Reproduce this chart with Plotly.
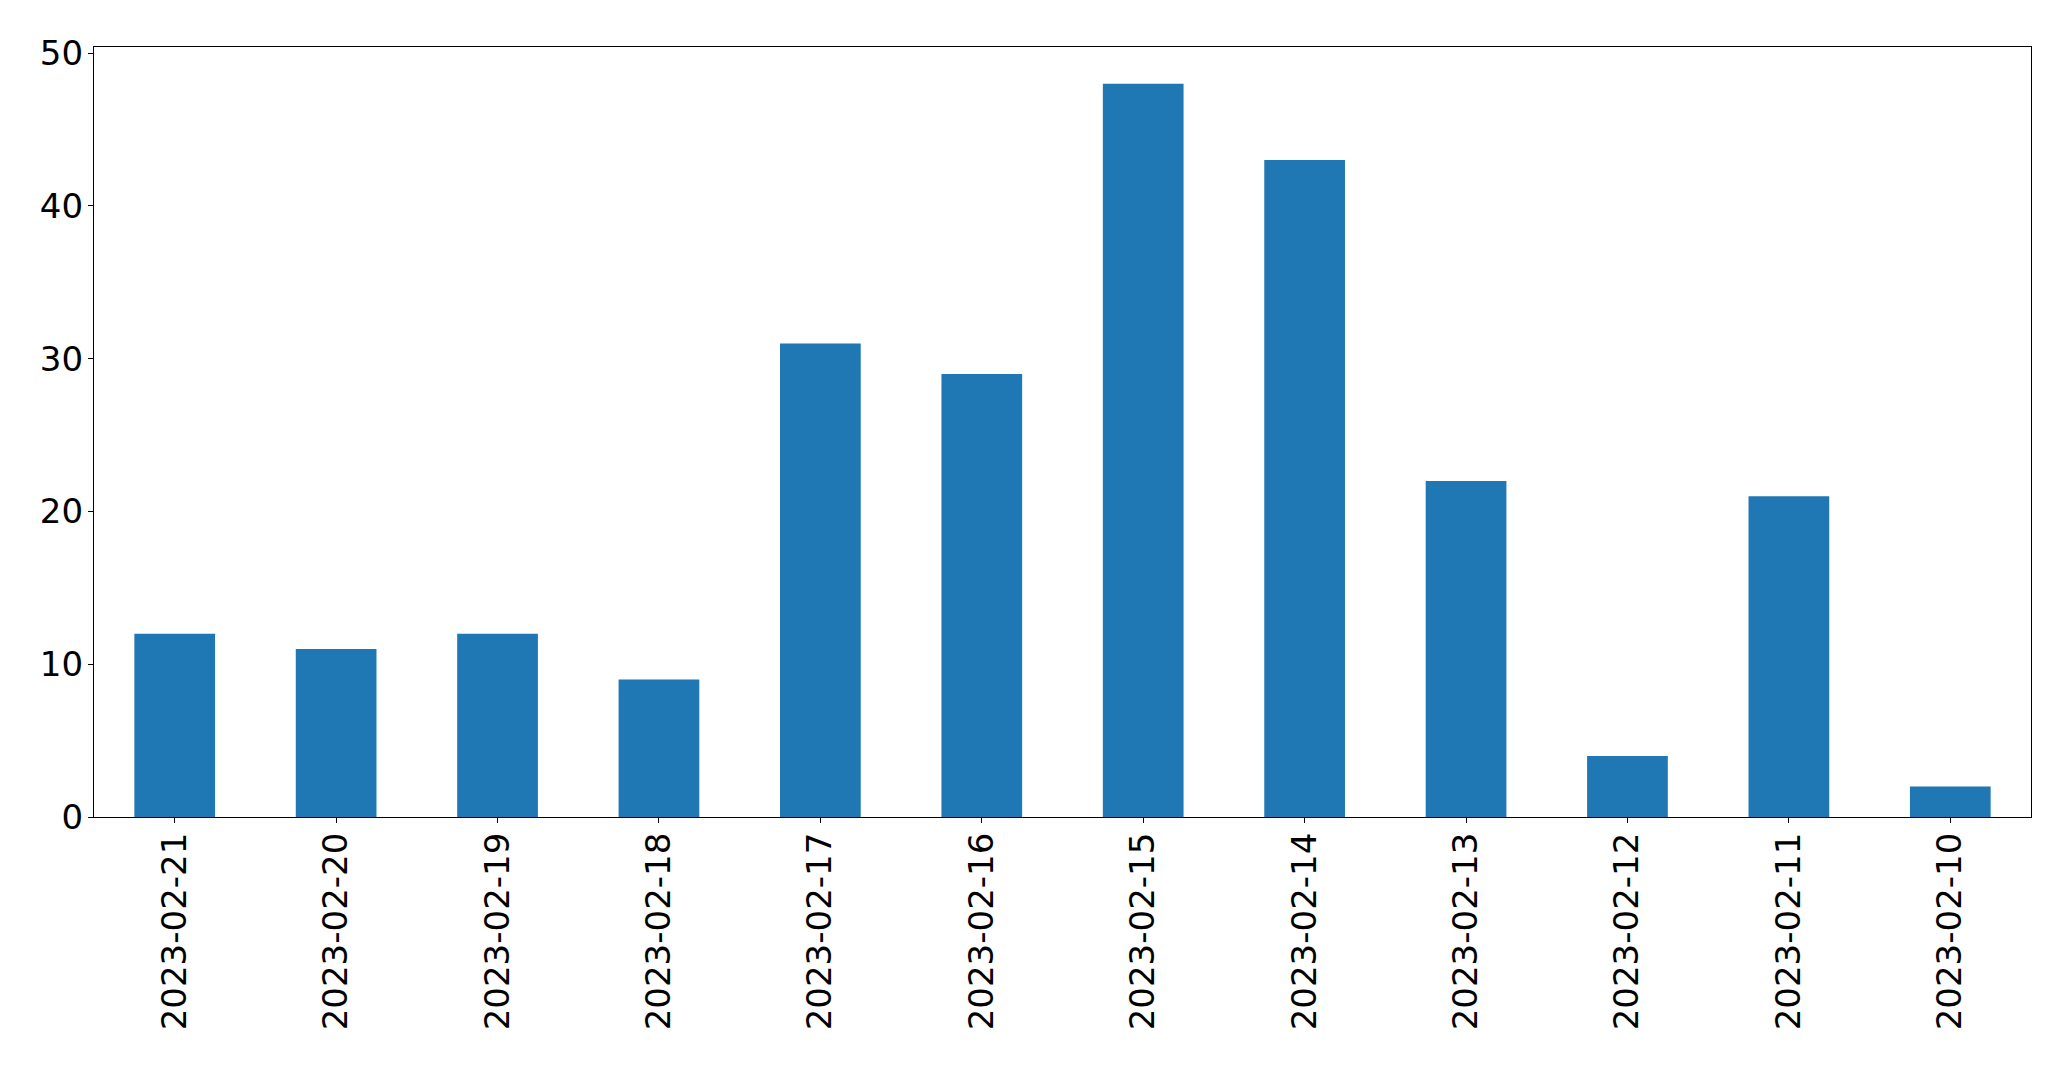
import plotly.graph_objects as go

dates = ["2023-02-21", "2023-02-20", "2023-02-19", "2023-02-18", "2023-02-17", "2023-02-16",
         "2023-02-15", "2023-02-14", "2023-02-13", "2023-02-12", "2023-02-11", "2023-02-10"]
counts = [12, 11, 12, 9, 31, 29, 48, 43, 22, 4, 21, 2]
y_ticks = [0, 10, 20, 30, 40, 50]

fig = go.Figure(go.Bar(x=dates, y=counts, width=0.5, marker=dict(color="#1f77b4", line=dict(width=0))))

font = dict(family="DejaVu Sans", size=34, color="black")
fig.update_layout(
    width=2071, height=1069,
    margin=dict(l=94, r=40, t=47, b=252),
    paper_bgcolor="white", plot_bgcolor="white",
    showlegend=False,
    font=font,
)
fig.update_xaxes(
    type="category", range=[-0.5, len(dates) - 0.5], automargin=False,
    tickangle=-90, ticks="outside", ticklen=5, tickwidth=1.2, tickcolor="black",
    ticklabelstandoff=-4,
    showline=True, linecolor="black", linewidth=1.2, mirror=True,
    showgrid=False, tickfont=font,
)
fig.update_yaxes(
    range=[0, 50.4], tickvals=y_ticks, automargin=False, ticks="outside", ticklen=5, tickwidth=1.2, tickcolor="black",
    ticklabelstandoff=-2,
    showline=True, linecolor="black", linewidth=1.2, mirror=True,
    showgrid=False, zeroline=False, tickfont=font,
)
fig.write_html("out.html", config={"displayModeBar": False},
               post_script="document.body.style.margin='0';document.body.style.overflow='hidden';")
